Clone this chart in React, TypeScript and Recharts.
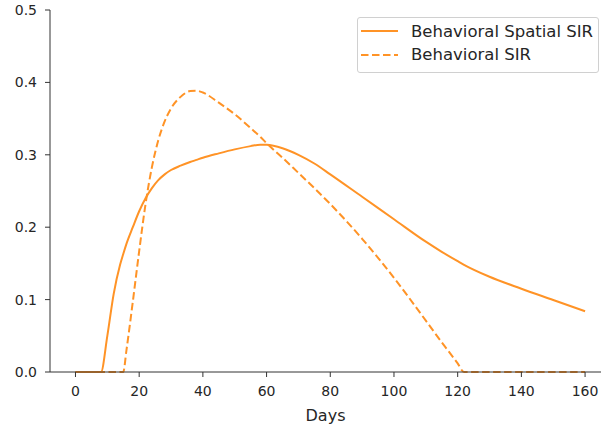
import { Legend, Line, LineChart, XAxis, YAxis } from "recharts";

// values
const DAYS = [
  0, 4, 8, 10, 12, 14, 15, 16, 18, 20, 22, 24, 26, 28, 30, 33, 36, 38, 40, 45,
  50, 55, 58, 60, 65, 70, 75, 80, 90, 100, 110, 115, 120, 122, 130, 140, 150,
  160,
];

const SPATIAL_SIR = [
  0, 0, 0, 0.05, 0.108, 0.148, 0.163, 0.177, 0.2, 0.222, 0.24, 0.254, 0.265,
  0.273, 0.279, 0.285, 0.29, 0.293, 0.296, 0.302, 0.3075, 0.312, 0.314, 0.3138,
  0.309, 0.3, 0.288, 0.273, 0.242, 0.211, 0.18, 0.166, 0.153, 0.148, 0.1315,
  0.115, 0.0995, 0.084,
];

const BEHAVIORAL_SIR = [
  0, 0, 0, 0, 0, 0, 0, 0.03, 0.097, 0.167, 0.232, 0.283, 0.32, 0.346, 0.364,
  0.38, 0.388, 0.3885, 0.386, 0.372, 0.356, 0.337, 0.325, 0.316, 0.296, 0.275,
  0.254, 0.232, 0.184, 0.13, 0.071, 0.041, 0.012, 0, 0, 0, 0, 0,
];

const X_TICKS = [0, 20, 40, 60, 80, 100, 120, 140, 160];
const Y_TICKS = [0, 0.1, 0.2, 0.3, 0.4, 0.5];

const SERIES_NAMES = ["Behavioral Spatial SIR", "Behavioral SIR"];

const ORANGE = "#ff9326";
const INK = "#262626";
const FONT = "'DejaVu Sans', sans-serif";
const DASH = "7.5 3.5";

const rows = DAYS.map((day, i) => ({
  day,
  spatial: SPATIAL_SIR[i],
  behavioral: BEHAVIORAL_SIR[i],
}));

function LegendBox() {
  return (
    <div
      style={{
        position: "relative",
        width: 240,
        height: 54,
        border: "1px solid #d0d0d0",
        borderRadius: 3,
        background: "#fff",
        fontFamily: FONT,
        fontSize: 16.5,
        color: INK,
      }}
    >
      {SERIES_NAMES.map((name, i) => (
        <div
          key={name}
          style={{
            position: "absolute",
            left: 0,
            top: 1 + i * 23.5,
            height: 24,
            display: "flex",
            alignItems: "center",
            whiteSpace: "nowrap",
          }}
        >
          <svg width={53} height={10} style={{ flex: "none" }}>
            <line
              x1={3}
              x2={40}
              y1={5}
              y2={5}
              stroke={ORANGE}
              strokeWidth={2}
              strokeDasharray={i === 1 ? DASH : undefined}
            />
          </svg>
          <span>{name}</span>
        </div>
      ))}
    </div>
  );
}

export default function App() {
  return (
    <div style={{ position: "fixed", left: 0, top: 0, background: "#fff" }}>
      <LineChart
        width={602}
        height={429}
        data={rows}
        margin={{ top: 10, right: 1, bottom: 0, left: 0 }}
      >
        <XAxis
          dataKey="day"
          type="number"
          domain={[-8, 165]}
          ticks={X_TICKS}
          allowDataOverflow
          height={57}
          tickSize={5}
          tickMargin={9}
          axisLine={{ stroke: "#333" }}
          tickLine={{ stroke: "#333" }}
          tick={{ fill: INK, fontSize: 14, fontFamily: FONT }}
          label={{
            value: "Days",
            position: "insideBottom",
            offset: 8,
            fill: INK,
            fontSize: 16,
            fontFamily: FONT,
          }}
        />
        <YAxis
          type="number"
          domain={[0, 0.5]}
          ticks={Y_TICKS}
          width={50}
          tickSize={5}
          tickMargin={8}
          axisLine={{ stroke: "#333" }}
          tickLine={{ stroke: "#333" }}
          tick={{ fill: INK, fontSize: 14, fontFamily: FONT }}
          tickFormatter={(v: number) => v.toFixed(1)}
        />
        <Legend
          layout="horizontal"
          verticalAlign="middle"
          align="center"
          wrapperStyle={{ top: 17, left: 357, width: "auto", height: "auto" }}
          content={() => <LegendBox />}
        />
        <Line
          dataKey="spatial"
          name={SERIES_NAMES[0]}
          type="monotone"
          stroke={ORANGE}
          strokeWidth={2}
          dot={false}
          isAnimationActive={false}
        />
        <Line
          dataKey="behavioral"
          name={SERIES_NAMES[1]}
          type="monotone"
          stroke={ORANGE}
          strokeWidth={2}
          strokeDasharray={DASH}
          dot={false}
          isAnimationActive={false}
        />
      </LineChart>
    </div>
  );
}
